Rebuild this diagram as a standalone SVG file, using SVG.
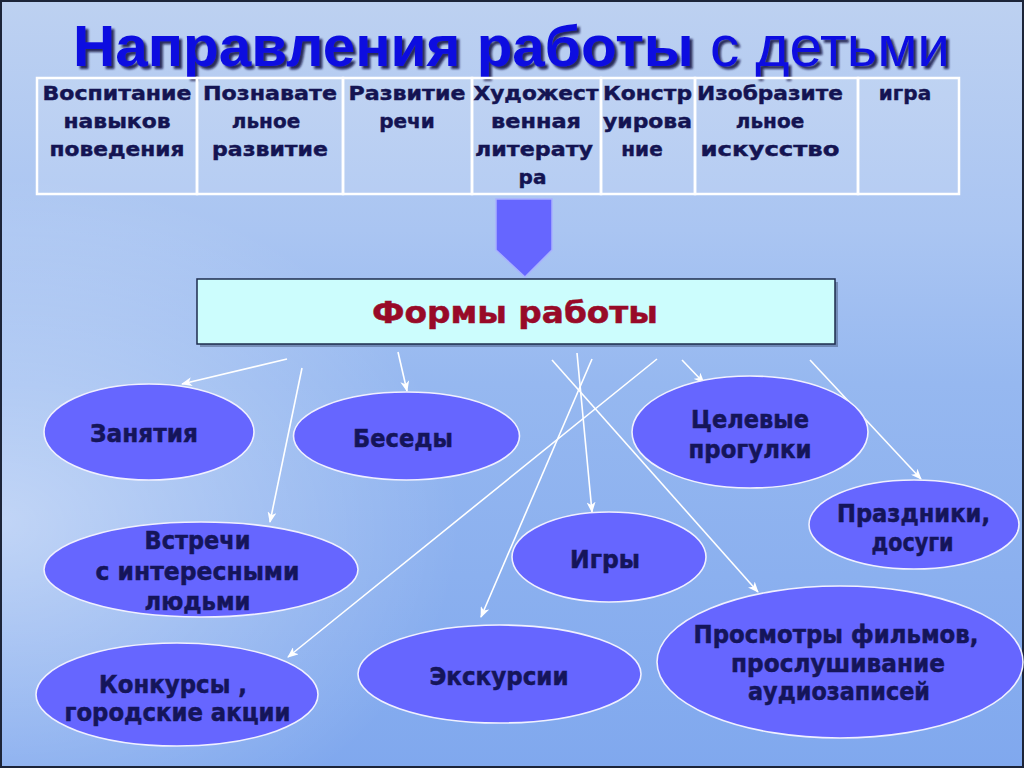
<svg xmlns="http://www.w3.org/2000/svg" width="1024" height="768" viewBox="0 0 1024 768">
<defs>
<linearGradient id="bg" x1="0" y1="0" x2="0" y2="1">
<stop offset="0" stop-color="#bdd1f1"/>
<stop offset="0.3" stop-color="#aac5f2"/>
<stop offset="0.5" stop-color="#96b8f0"/>
<stop offset="1" stop-color="#80a8ee"/>
</linearGradient>
<radialGradient id="glow" cx="0" cy="0.68" r="0.45">
<stop offset="0" stop-color="#ffffff" stop-opacity="0.45"/>
<stop offset="1" stop-color="#ffffff" stop-opacity="0"/>
</radialGradient>
<filter id="sh" x="-5%" y="-20%" width="110%" height="140%">
<feDropShadow dx="3" dy="3" stdDeviation="0.8" flood-color="#0c0c40" flood-opacity="0.85"/>
</filter>
<marker id="ah" markerWidth="11" markerHeight="9" refX="10" refY="4.5" orient="auto" markerUnits="userSpaceOnUse">
<path d="M0,0 L11,4.5 L0,9 L3,4.5 z" fill="#ffffff"/>
</marker>
<style>
.cell{fill:#ffffff;fill-opacity:0.12;stroke:#ffffff;stroke-width:2.5}
.tt{font-family:"DejaVu Sans","Liberation Sans",sans-serif;font-weight:bold;font-size:20px;fill:#141452;stroke:#141452;stroke-width:0.45;text-anchor:middle}
.node ellipse{fill:#6666ff;stroke:#f0f0ff;stroke-width:1.6}
.et{font-family:"DejaVu Sans","Liberation Sans",sans-serif;font-weight:bold;font-size:24px;fill:#15155a;stroke:#15155a;stroke-width:0.5;text-anchor:middle}
.conn line{stroke:#ffffff;stroke-width:1.6;marker-end:url(#ah)}
.title{font-family:"Liberation Sans",Arial,sans-serif;font-size:57px}
</style>
</defs>
<rect x="0" y="0" width="1024" height="768" fill="url(#bg)"/>
<rect x="0" y="0" width="1024" height="768" fill="url(#glow)"/>
<rect x="1" y="1" width="1022" height="766" fill="none" stroke="#1c2438" stroke-width="2"/>

<g id="title">
<text class="title" x="73" y="66" textLength="877" lengthAdjust="spacingAndGlyphs" fill="#0c10e0" filter="url(#sh)"><tspan font-weight="bold">Направления работы</tspan> с детьми</text>
</g>

<g id="table">
<rect class="cell" x="37" y="78" width="160" height="116"/>
<rect class="cell" x="197" y="78" width="146" height="116"/>
<rect class="cell" x="343" y="78" width="129" height="116"/>
<rect class="cell" x="472" y="78" width="129" height="116"/>
<rect class="cell" x="601" y="78" width="94" height="116"/>
<rect class="cell" x="695" y="78" width="163" height="116"/>
<rect class="cell" x="858" y="78" width="101" height="116"/>
<text class="tt" x="117" y="100" textLength="149" lengthAdjust="spacingAndGlyphs">Воспитание</text>
<text class="tt" x="117" y="128" textLength="107" lengthAdjust="spacingAndGlyphs">навыков</text>
<text class="tt" x="117" y="156" textLength="135" lengthAdjust="spacingAndGlyphs">поведения</text>
<text class="tt" x="270" y="100" textLength="134" lengthAdjust="spacingAndGlyphs">Познавате</text>
<text class="tt" x="266" y="128">льное</text>
<text class="tt" x="270" y="156" textLength="116" lengthAdjust="spacingAndGlyphs">развитие</text>
<text class="tt" x="407" y="100" textLength="117" lengthAdjust="spacingAndGlyphs">Развитие</text>
<text class="tt" x="407" y="128">речи</text>
<text class="tt" x="536" y="100" textLength="125" lengthAdjust="spacingAndGlyphs">Художест</text>
<text class="tt" x="536" y="128" textLength="90" lengthAdjust="spacingAndGlyphs">венная</text>
<text class="tt" x="534" y="156" textLength="118" lengthAdjust="spacingAndGlyphs">литерату</text>
<text class="tt" x="532.5" y="184">ра</text>
<text class="tt" x="647.5" y="100" textLength="89" lengthAdjust="spacingAndGlyphs">Констр</text>
<text class="tt" x="647.5" y="128" textLength="89" lengthAdjust="spacingAndGlyphs">уирова</text>
<text class="tt" x="642" y="156">ние</text>
<text class="tt" x="770" y="100" textLength="146" lengthAdjust="spacingAndGlyphs">Изобразите</text>
<text class="tt" x="770" y="128">льное</text>
<text class="tt" x="770" y="156" textLength="139" lengthAdjust="spacingAndGlyphs">искусство</text>
<text class="tt" x="905" y="100">игра</text>
</g>

<g id="block-arrow">
<path d="M496,199 H552 V250 L525,277 L496,250 Z" fill="#6666ff" stroke="#a8b0ff" stroke-width="1.5"/>
</g>

<g id="forms">
<rect x="200" y="282" width="638" height="65" fill="#1c2a48" fill-opacity="0.35"/>
<rect x="197" y="279" width="638" height="65" fill="#ccfdfd" stroke="#1e2c4e" stroke-width="1.5"/>
<text x="515" y="323" textLength="286" lengthAdjust="spacingAndGlyphs" font-family="DejaVu Sans, Liberation Sans, sans-serif" font-weight="bold" font-size="30" fill="#980a28" stroke="#980a28" stroke-width="0.5" text-anchor="middle">Формы работы</text>
</g>

<g class="conn" id="connectors">
<line x1="287" y1="359" x2="182" y2="384"/>
<line x1="302" y1="368" x2="270" y2="522"/>
<line x1="398" y1="352" x2="407" y2="391"/>
<line x1="552" y1="360" x2="758" y2="592"/>
<line x1="577" y1="353" x2="592" y2="512"/>
<line x1="592" y1="359" x2="481" y2="617"/>
<line x1="657" y1="359" x2="288" y2="657"/>
<line x1="682" y1="360" x2="704" y2="383"/>
<line x1="810" y1="360" x2="921" y2="479"/>
</g>

<g class="node" id="zanyatiya">
<ellipse cx="149" cy="432" rx="105" ry="48"/>
<text class="et" x="144" y="442" textLength="108" lengthAdjust="spacingAndGlyphs">Занятия</text>
</g>
<g class="node" id="besedy">
<ellipse cx="406.5" cy="436" rx="113" ry="44"/>
<text class="et" x="403" y="447" textLength="100" lengthAdjust="spacingAndGlyphs">Беседы</text>
</g>
<g class="node" id="progulki">
<ellipse cx="750" cy="432" rx="118" ry="56"/>
<text class="et" x="750" y="428" textLength="118" lengthAdjust="spacingAndGlyphs">Целевые</text>
<text class="et" x="750" y="458" textLength="123" lengthAdjust="spacingAndGlyphs">прогулки</text>
</g>
<g class="node" id="prazdniki">
<ellipse cx="914" cy="524.5" rx="105" ry="44.5"/>
<text class="et" x="913.5" y="522" textLength="153" lengthAdjust="spacingAndGlyphs">Праздники,</text>
<text class="et" x="912.5" y="551" textLength="82" lengthAdjust="spacingAndGlyphs">досуги</text>
</g>
<g class="node" id="igry">
<ellipse cx="609" cy="557" rx="97" ry="45"/>
<text class="et" x="605" y="568" textLength="70" lengthAdjust="spacingAndGlyphs">Игры</text>
</g>
<g class="node" id="vstrechi">
<ellipse cx="201" cy="569.5" rx="157" ry="47.5"/>
<text class="et" x="197.5" y="549" textLength="106" lengthAdjust="spacingAndGlyphs">Встречи</text>
<text class="et" x="197.5" y="580" textLength="204" lengthAdjust="spacingAndGlyphs">с интересными</text>
<text class="et" x="197.5" y="610" textLength="106" lengthAdjust="spacingAndGlyphs">людьми</text>
</g>
<g class="node" id="konkursy">
<ellipse cx="177" cy="694.5" rx="141" ry="51.5"/>
<text class="et" x="173" y="693" textLength="148" lengthAdjust="spacingAndGlyphs">Конкурсы ,</text>
<text class="et" x="177.5" y="721" textLength="226" lengthAdjust="spacingAndGlyphs">городские акции</text>
</g>
<g class="node" id="ekskursii">
<ellipse cx="499.5" cy="674" rx="141.5" ry="49"/>
<text class="et" x="499" y="685" textLength="139" lengthAdjust="spacingAndGlyphs">Экскурсии</text>
</g>
<g class="node" id="prosmotry">
<ellipse cx="840" cy="662" rx="183" ry="76"/>
<text class="et" x="836" y="643" font-size="27" textLength="285" lengthAdjust="spacingAndGlyphs">Просмотры фильмов,</text>
<text class="et" x="838" y="672" font-size="27" textLength="214" lengthAdjust="spacingAndGlyphs">прослушивание</text>
<text class="et" x="839" y="700" font-size="27" textLength="182" lengthAdjust="spacingAndGlyphs">аудиозаписей</text>
</g>
</svg>
